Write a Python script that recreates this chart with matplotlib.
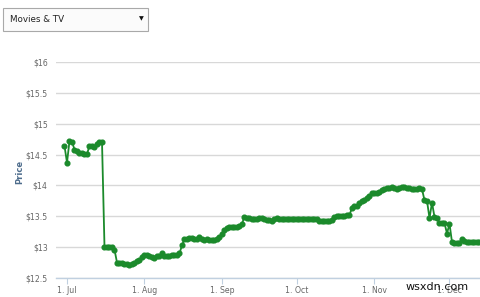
import matplotlib
matplotlib.use("Agg")
import matplotlib.pyplot as plt
import matplotlib.dates as mdates
from matplotlib.patches import FancyBboxPatch
import pandas as pd

start_date = "2014-06-30"
prices = [
    14.64, 14.37, 14.72, 14.71, 14.58, 14.55, 14.53, 14.52, 14.51, 14.51,
    14.64, 14.64, 14.63, 14.67, 14.71, 14.71, 13.00, 13.00, 13.00, 13.00,
    12.96, 12.75, 12.74, 12.75, 12.72, 12.73, 12.71, 12.73, 12.74, 12.77,
    12.79, 12.84, 12.88, 12.88, 12.85, 12.84, 12.83, 12.85, 12.86, 12.91,
    12.86, 12.86, 12.86, 12.87, 12.87, 12.87, 12.90, 13.03, 13.13, 13.14,
    13.15, 13.15, 13.13, 13.14, 13.16, 13.13, 13.12, 13.14, 13.11, 13.11,
    13.12, 13.13, 13.16, 13.22, 13.28, 13.31, 13.32, 13.32, 13.32, 13.32,
    13.34, 13.38, 13.49, 13.48, 13.47, 13.46, 13.45, 13.46, 13.47, 13.47,
    13.45, 13.44, 13.44, 13.43, 13.46, 13.47, 13.46, 13.46, 13.46, 13.46,
    13.46, 13.46, 13.46, 13.46, 13.46, 13.46, 13.46, 13.46, 13.46, 13.46,
    13.46, 13.45, 13.43, 13.43, 13.43, 13.43, 13.43, 13.44, 13.49, 13.50,
    13.50, 13.51, 13.51, 13.52, 13.52, 13.64, 13.66, 13.67, 13.71, 13.74,
    13.76, 13.79, 13.83, 13.87, 13.88, 13.88, 13.89, 13.93, 13.95, 13.96,
    13.96, 13.97, 13.96, 13.95, 13.96, 13.97, 13.98, 13.96, 13.96, 13.95,
    13.94, 13.95, 13.96, 13.94, 13.76, 13.75, 13.47, 13.72, 13.49, 13.47,
    13.39, 13.39, 13.39, 13.22, 13.38, 13.08, 13.06, 13.06, 13.07, 13.14,
    13.10, 13.09, 13.08, 13.08, 13.08, 13.08, 13.08,
]
y_ticks = [12.5, 13, 13.5, 14, 14.5, 15, 15.5, 16]
y_tick_labels = ["$12.5", "$13", "$13.5", "$14", "$14.5", "$15", "$15.5", "$16"]
x_tick_dates = ["2014-07-01", "2014-08-01", "2014-09-01", "2014-10-01", "2014-11-01", "2014-12-01"]
x_tick_labels = ["1. Jul", "1. Aug", "1. Sep", "1. Oct", "1. Nov", "1. Dec"]
dropdown_text = "Movies & TV"
y_title = "Price"

dates = pd.date_range(start_date, periods=len(prices), freq="D")

W, H = 480, 297
fig = plt.figure(figsize=(W / 100, H / 100), dpi=100)
fig.patch.set_facecolor("white")

ax_left, ax_right, ax_top, ax_bottom = 56, 480, 62, 278
ax = fig.add_axes([ax_left / W, 1 - ax_bottom / H, (ax_right - ax_left) / W, (ax_bottom - ax_top) / H])
ax.set_facecolor("white")

green = "#1b8a2b"
ax.plot(dates, prices, color=green, lw=1.3, marker="o", ms=3.4, mec=green, mfc=green,
        zorder=3, clip_on=False)

ax.set_ylim(12.5, 16)
# x limits: plot area starts ~4.4 days before Jul 1 and spans to right edge
x0 = pd.Timestamp("2014-07-01") - pd.Timedelta(days=4.4)
x1 = pd.Timestamp("2014-07-01") + pd.Timedelta(days=(480 - 67) / 2.5)
ax.set_xlim(x0, x1)

ax.set_yticks(y_ticks)
ax.set_yticklabels(y_tick_labels)
ax.set_xticks([pd.Timestamp(d) for d in x_tick_dates])
ax.set_xticklabels(x_tick_labels)

ax.grid(axis="y", color="#d8d8d8", lw=1)
ax.set_axisbelow(True)
for s in ["top", "right", "left"]:
    ax.spines[s].set_visible(False)
ax.spines["bottom"].set_color("#c0d0e0")
ax.spines["bottom"].set_linewidth(1)

ax.tick_params(axis="y", length=0, pad=6, labelsize=5.6, labelcolor="#666666")
ax.tick_params(axis="x", length=4, width=0.8, color="#c0d0e0", pad=1.5, labelsize=5.6, labelcolor="#666666")

fig.text(20 / W, 1 - 172 / H, y_title, rotation=90, ha="center", va="center",
         fontsize=6, fontweight="bold", color="#4d6c8c")

# dropdown box
box = FancyBboxPatch((3 / W, 1 - 31 / H), 145 / W, 23 / H, boxstyle="square,pad=0",
                     transform=fig.transFigure, facecolor="#fbfbfb", edgecolor="#a9a9a9", lw=0.8)
fig.patches.append(box)
fig.text(10 / W, 1 - 19.5 / H, dropdown_text, ha="left", va="center", fontsize=6.3, color="#222222")
fig.text(141 / W, 1 - 18.5 / H, "▼", ha="center", va="center", fontsize=4.5, color="#111111")

# watermark
fig.text(437 / W, 1 - 287 / H, "wsxdn.com", ha="center", va="center", fontsize=8, color="#111111")

fig.savefig("out.png", dpi=100)
